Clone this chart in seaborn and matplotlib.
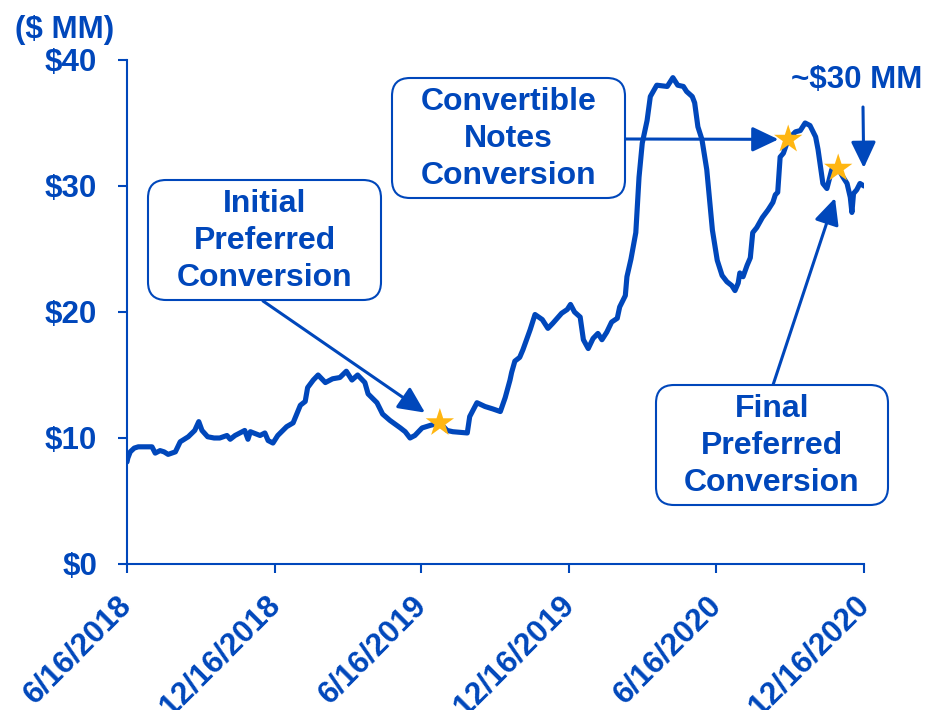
import matplotlib
matplotlib.use("Agg")
import matplotlib.pyplot as plt
import numpy as np
import pandas as pd
import seaborn as sns
from matplotlib.patches import FancyBboxPatch
from matplotlib.transforms import IdentityTransform, ScaledTranslation

# ---- data -------------------------------------------------------------
start_date = "2018-06-16"
# days after the start date and market value ($ MM) on that day
day_offsets = [
    0, 1, 4, 9, 14, 22, 31, 35, 41, 46, 51, 60, 66, 76, 84, 89, 93, 100,
    108, 115, 124, 128, 134, 146, 150, 153, 165, 171, 175, 181, 187, 198,
    206, 215, 221, 224, 231, 237, 246, 255, 264, 272, 279, 286, 295, 299,
    310, 317, 326, 339, 345, 351, 357, 366, 376, 388, 397, 404, 422, 425,
    434, 444, 454, 463, 469, 475, 477, 481, 487, 491, 500, 506, 515, 522,
    528, 539, 546, 550, 555, 562, 566, 572, 578, 584, 589, 595, 601, 608,
    611, 618, 620, 625, 631, 635, 639, 645, 649, 657, 670, 677, 683, 690,
    694, 701, 704, 708, 713, 719, 726, 732, 738, 744, 750, 754, 758, 760,
    764, 769, 773, 776, 781, 788, 795, 801, 804, 807, 810, 814, 820, 829,
    835, 841, 847, 854, 857, 863, 868, 874, 882, 888, 893, 897, 899, 901,
    905, 909, 914,
]
market_value = [
    8.1, 8.4, 8.9, 9.2, 9.3, 9.3, 9.3, 8.8, 9.0, 8.9, 8.7, 8.9, 9.7, 10.1,
    10.6, 11.3, 10.6, 10.1, 10.0, 10.0, 10.2, 9.9, 10.2, 10.6, 9.9, 10.5,
    10.2, 10.4, 9.8, 9.6, 10.2, 10.9, 11.2, 12.6, 12.9, 14.0, 14.6, 15.0,
    14.4, 14.7, 14.8, 15.3, 14.6, 15.0, 14.4, 13.5, 12.8, 11.9, 11.4, 10.8,
    10.5, 10.0, 10.2, 10.8, 11.0, 11.2, 10.6, 10.5, 10.4, 11.7, 12.8, 12.5,
    12.3, 12.1, 13.2, 14.6, 15.2, 16.1, 16.4, 17.0, 18.6, 19.8, 19.4, 18.7,
    19.1, 19.9, 20.2, 20.6, 20.0, 19.6, 17.8, 17.1, 17.9, 18.3, 17.8, 18.4,
    19.2, 19.5, 20.4, 21.3, 22.8, 24.2, 26.3, 30.7, 33.4, 35.2, 37.1, 38.0,
    37.9, 38.6, 38.0, 37.9, 37.5, 37.1, 36.6, 34.7, 33.7, 31.3, 26.5, 24.1,
    22.9, 22.4, 22.1, 21.7, 22.3, 23.1, 22.8, 23.7, 24.3, 26.3, 26.7, 27.5,
    28.1, 28.7, 29.3, 29.5, 32.3, 32.6, 33.7, 34.3, 34.4, 35.0, 34.8, 33.9,
    32.9, 30.2, 29.8, 31.3, 31.4, 30.7, 30.2, 29.1, 27.9, 29.4, 29.7, 30.2,
    30.0,
]

# conversion events (initial preferred, convertible notes, final preferred)
event_days = [388, 820, 882]
event_values = [11.2, 33.7, 31.4]

tick_dates = ["2018-06-16", "2018-12-16", "2019-06-16",
              "2019-12-16", "2020-06-16", "2020-12-16"]
tick_labels = ["6/16/2018", "12/16/2018", "6/16/2019",
               "12/16/2019", "6/16/2020", "12/16/2020"]
y_ticks = [0, 10, 20, 30, 40]
y_tick_labels = ["$0", "$10", "$20", "$30", "$40"]

# ---- style ------------------------------------------------------------
BLUE = "#0047BB"
GOLD = "#FFB612"
W, H = 926, 710
TICK_FS = 22.5
BOX_FS = 23

sns.set_theme(style="white")
plt.rcParams["font.family"] = ["Liberation Sans", "DejaVu Sans"]
plt.rcParams["font.weight"] = "bold"

t0 = pd.Timestamp(start_date)
df = pd.DataFrame({
    "date": t0 + pd.to_timedelta(day_offsets, unit="D"),
    "value": market_value,
})
events = pd.DataFrame({
    "date": t0 + pd.to_timedelta(event_days, unit="D"),
    "value": event_values,
})

fig = plt.figure(figsize=(W / 100, H / 100), dpi=100)
ax = fig.add_axes([127 / W, 1 - 564 / H, (864 - 127) / W, (564 - 60) / H])

sns.lineplot(data=df, x="date", y="value", color=BLUE, linewidth=3.7,
             ax=ax, zorder=3)
sns.scatterplot(data=events, x="date", y="value", marker="*", s=460,
                color=GOLD, edgecolor="none", ax=ax, zorder=5)

ax.set_xlim(pd.Timestamp(tick_dates[0]), pd.Timestamp(tick_dates[-1]))
ax.set_ylim(0, 40)
ax.set_xticks(pd.to_datetime(tick_dates))
ax.set_xticklabels(tick_labels, rotation=45, ha="right",
                   rotation_mode="anchor")
ax.set_yticks(y_ticks)
ax.set_yticklabels(y_tick_labels)
ax.set_xlabel("")
ax.set_ylabel("")

for side in ("top", "right"):
    ax.spines[side].set_visible(False)
for side in ("left", "bottom"):
    ax.spines[side].set_color(BLUE)
    ax.spines[side].set_linewidth(1.5)

ax.tick_params(axis="both", colors=BLUE, width=1.5, length=6.5,
               direction="out", labelsize=TICK_FS, bottom=True, left=True)
ax.tick_params(axis="y", pad=15)
ax.tick_params(axis="x", pad=11)
shift = ScaledTranslation(-10 / 100, -2 / 100, fig.dpi_scale_trans)
for lab in ax.get_xticklabels():
    lab.set_fontweight("bold")
    lab.set_transform(lab.get_transform() + shift)
for lab in ax.get_yticklabels():
    lab.set_fontweight("bold")


def ff(x, y):
    """pixel position (from top-left) -> figure fraction"""
    return (x / W, 1 - y / H)


# unit label
fig.text(*ff(65, 30), "($ MM)", ha="center", va="center", color=BLUE,
         fontsize=TICK_FS, fontweight="bold")

# callout boxes: (left, top, right, bottom) in pixels, text
boxes = [
    ((148, 180, 381, 300), "Initial\nPreferred\nConversion"),
    ((392, 78, 625, 198), "Convertible\nNotes\nConversion"),
    ((656, 385, 888, 505), "Final\nPreferred\nConversion"),
]
for (x0, y0, x1, y1), label in boxes:
    patch = FancyBboxPatch((x0, H - y1), x1 - x0, y1 - y0,
                           boxstyle="round,pad=0,rounding_size=18",
                           transform=IdentityTransform(),
                           facecolor="white", edgecolor=BLUE, linewidth=1.5,
                           zorder=6)
    fig.add_artist(patch)
    fig.text(*ff((x0 + x1) / 2, (y0 + y1) / 2 + 1), label, ha="center",
             va="center", color=BLUE, fontsize=BOX_FS, fontweight="bold",
             linespacing=1.3, zorder=7)

arrow_kw = dict(arrowstyle="-|>,head_length=0.8,head_width=0.38",
                color=BLUE, lw=2.2, mutation_scale=20, shrinkA=0)

# initial preferred conversion
ax.annotate("", xy=(events["date"][0], events["value"][0]), xycoords="data",
            xytext=ff(263, 301), textcoords="figure fraction",
            arrowprops=dict(arrow_kw, shrinkB=13), annotation_clip=False)
# convertible notes conversion
ax.annotate("", xy=(events["date"][1], events["value"][1]), xycoords="data",
            xytext=ff(625, 139), textcoords="figure fraction",
            arrowprops=dict(arrow_kw, shrinkB=7), annotation_clip=False)
# final preferred conversion
ax.annotate("", xy=ff(835, 198), xycoords="figure fraction",
            xytext=ff(773, 385), textcoords="figure fraction",
            arrowprops=dict(arrow_kw, shrinkB=0), annotation_clip=False)

# latest value call-out
fig.text(*ff(857, 80), "~$30 MM", ha="center", va="center", color=BLUE,
         fontsize=TICK_FS, fontweight="bold")
ax.annotate("", xy=(df["date"].iloc[-1], df["value"].iloc[-1]),
            xycoords="data", xytext=ff(863, 107),
            textcoords="figure fraction",
            arrowprops=dict(arrow_kw, shrinkB=13), annotation_clip=False)

fig.savefig("out.png", dpi=100, facecolor="white")
